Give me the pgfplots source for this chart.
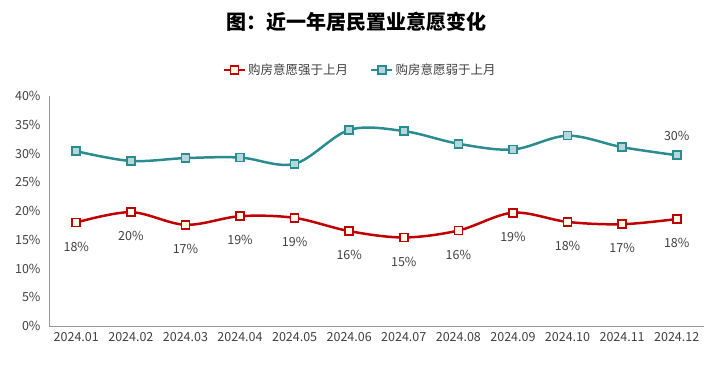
\documentclass[border=0pt]{standalone}
\usepackage{pgfplots}
\pgfplotsset{compat=1.18}
\usepackage{fontspec}
\setmainfont{Noto Sans CJK SC}
\definecolor{cred}{RGB}{192,0,0}
\definecolor{cteal}{RGB}{42,140,145}
\definecolor{tgray}{RGB}{64,64,64}
\definecolor{agray}{RGB}{150,150,150}
\begin{document}
\begin{tikzpicture}
\begin{axis}[
  name=ax,
  scale only axis,
  width=655bp, height=230bp,
  xmin=-0.5, xmax=11.5,
  ymin=0, ymax=40,
  ytick={0,5,...,40},
  yticklabel={\pgfmathprintnumber{\tick}\%},
  /pgf/number format/assume math mode=true,
  xtick={0,...,11},
  xticklabels={2024.01,2024.02,2024.03,2024.04,2024.05,2024.06,2024.07,2024.08,2024.09,2024.10,2024.11,2024.12},
  extra x ticks={-0.5,0.5,...,11.5},
  extra x tick labels={},
  extra x tick style={major tick length=5bp, tick style={agray, line width=0.6pt}, tick pos=bottom},
  axis x line*=bottom,
  axis y line*=left,
  x axis line style={agray, line width=0.6pt, -},
  y axis line style={agray, line width=0.6pt, -},
  major x tick style={draw=none},
  ytick style={draw=none},
  tick label style={font=\fontsize{12.5bp}{14bp}\selectfont, text=tgray},
  yticklabel style={xshift=-5bp},
  xticklabel style={yshift=-3bp},
  legend columns=2,
  legend style={draw=none, at={(0.475,1.113)}, anchor=center, font=\fontsize{12.5bp}{14bp}\selectfont, text=tgray, /tikz/every even column/.append style={column sep=20bp}},
  legend image code/.code={\draw[#1, mark repeat=2, mark phase=2] plot coordinates {(0bp,0bp) (10.5bp,0bp) (21bp,0bp)};},
  clip=false,
]
\addplot[cred, line width=2.5pt, smooth, tension=0.55, mark=square*, mark size=4bp,
  mark options={fill=white!92!yellow, draw=cred, line width=1.6pt},
  nodes near coords, point meta=explicit symbolic,
  every node near coord/.append style={anchor=center, yshift=-24bp, text=tgray, font=\fontsize{12.5bp}{14bp}\selectfont}]
  table[meta=lab] {
x y lab
0 18.0 18\%
1 19.8 20\%
2 17.6 17\%
3 19.1 19\%
4 18.8 19\%
5 16.5 16\%
6 15.4 15\%
7 16.6 16\%
8 19.7 19\%
9 18.1 18\%
10 17.7 17\%
11 18.6 18\%
};
\addlegendentry{购房意愿强于上月}
\addplot[cteal, line width=2.5pt, smooth, tension=0.55, mark=square*, mark size=4bp,
  mark options={fill=cteal!35!white, draw=cteal, line width=1.6pt}]
  table {
x y
0 30.4
1 28.7
2 29.2
3 29.3
4 28.2
5 34.1
6 33.9
7 31.7
8 30.7
9 33.1
10 31.1
11 29.7
};
\addlegendentry{购房意愿弱于上月}
\addplot[draw=none, mark=none, forget plot, nodes near coords, point meta=explicit symbolic,
  every node near coord/.append style={anchor=center, yshift=19bp, text=tgray, font=\fontsize{12.5bp}{14bp}\selectfont}]
  table[meta=lab] {
x y lab
11 29.7 30\%
};
\end{axis}
\node[font=\bfseries\fontsize{20bp}{23bp}\selectfont, text=black] at ([xshift=-20bp,yshift=74bp]ax.north) {图：近一年居民置业意愿变化};
\path[use as bounding box] ([xshift=-49bp,yshift=-40bp]ax.south west) rectangle ([xshift=19bp,yshift=96bp]ax.north east);
\end{tikzpicture}
\end{document}
